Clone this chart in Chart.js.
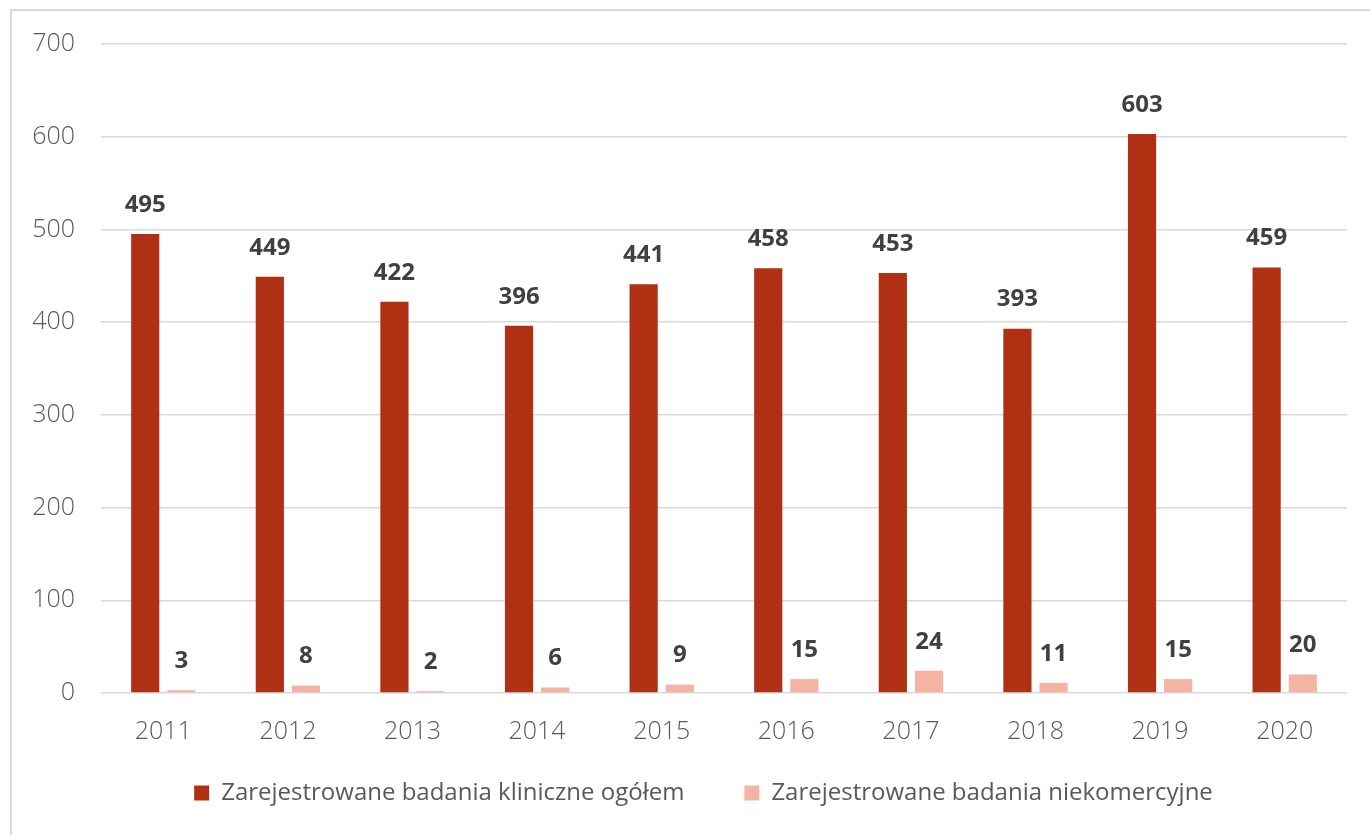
<!DOCTYPE html>
<html lang="pl">
<head>
    <meta charset="UTF-8">
    <title>Zarejestrowane badania kliniczne 2011-2020</title>
    <script src="https://cdn.jsdelivr.net/npm/chart.js"></script>
    <style>
        html, body { margin: 0; padding: 0; background: #fff; }
        .frame {
            position: absolute; left: 10px; top: 9px; width: 1360px; height: 826px;
            border-top: 2px solid #d9d9d9; border-left: 2px solid #d9d9d9;
        }
        #wrap { position: absolute; left: 0; top: 0; width: 1370px; height: 835px; }
    </style>
</head>
<body>
    <div class="frame"></div>
    <div id="wrap"><canvas id="chart"></canvas></div>

    <script>
        const years = ["2011", "2012", "2013", "2014", "2015", "2016", "2017", "2018", "2019", "2020"];
        const totalTrials = [495, 449, 422, 396, 441, 458, 453, 393, 603, 459];
        const nonCommercial = [3, 8, 2, 6, 9, 15, 24, 11, 15, 20];
        const seriesNames = ["Zarejestrowane badania kliniczne ogółem", "Zarejestrowane badania niekomercyjne"];

        const fontFamily = "'Open Sans', 'Liberation Sans', sans-serif";

        const barLabels = {
            id: 'barLabels',
            afterLayout(chart) {
                // nudge the legend to where it sits in the original
                const lg = chart.legend;
                lg.left += 30; lg.right += 30;
                lg.top -= 20; lg.bottom -= 20;
            },
            // value labels above the bars
            afterDatasetsDraw(chart) {
                const ctx = chart.ctx;
                ctx.save();
                ctx.font = "bold 24px " + fontFamily;
                ctx.fillStyle = "#404040";
                ctx.textAlign = "center";
                ctx.textBaseline = "middle";
                chart.data.datasets.forEach((ds, i) => {
                    chart.getDatasetMeta(i).data.forEach((bar, j) => {
                        ctx.fillText(ds.data[j], bar.x, bar.y - 29);
                    });
                });
                ctx.restore();
            }
        };

        new Chart(document.getElementById('chart'), {
            type: 'bar',
            data: {
                labels: years,
                datasets: [
                    { label: seriesNames[0], data: totalTrials, backgroundColor: "#b03014",
                      categoryPercentage: 0.58, barPercentage: 0.78 },
                    { label: seriesNames[1], data: nonCommercial, backgroundColor: "#f4b3a3",
                      categoryPercentage: 0.58, barPercentage: 0.78 }
                ]
            },
            options: {
                responsive: true,
                maintainAspectRatio: false,
                animation: false,
                layout: { padding: { top: 44, right: 23, bottom: 0, left: 0 } },
                plugins: {
                    tooltip: { enabled: false },
                    legend: {
                        position: 'bottom',
                        labels: {
                            font: { family: fontFamily, size: 24 },
                            color: "#595959",
                            boxWidth: 15,
                            boxHeight: 15,
                            padding: 60
                        }
                    }
                },
                scales: {
                    x: {
                        grid: { display: false },
                        border: { display: false },
                        ticks: { font: { family: fontFamily, size: 25, weight: 300 }, color: "#595959", padding: 16 },
                        afterFit(scale) { scale.height = 48; }
                    },
                    y: {
                        min: 0, max: 700,
                        ticks: { stepSize: 100, font: { family: fontFamily, size: 25, weight: 300 }, color: "#595959", padding: 26 },
                        grid: { color: "#d9d9d9", lineWidth: 1.5, drawTicks: false },
                        border: { display: false },
                        afterFit(scale) { scale.width = 101; }
                    }
                }
            },
            plugins: [barLabels]
        });
    </script>
</body>
</html>
